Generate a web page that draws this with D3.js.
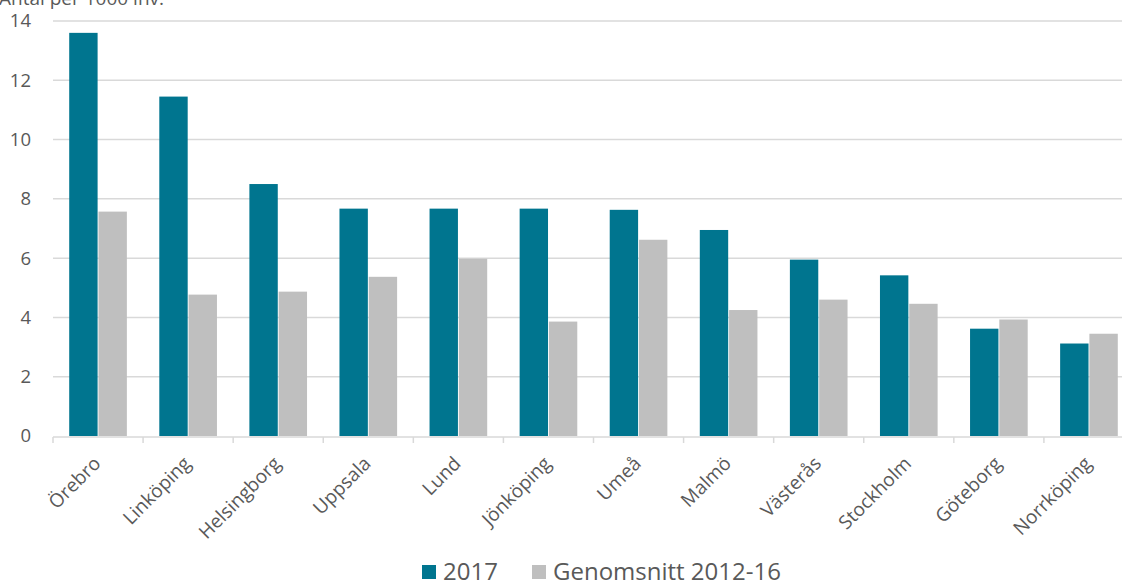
<!DOCTYPE html>
<html>
<head>
<meta charset="utf-8">
<script src="https://cdn.jsdelivr.net/npm/d3@7"></script>
<style>
  body { margin: 0; background: #fff; }
  text { font-family: "Open Sans", sans-serif; fill: #595959; }
</style>
</head>
<body>
<div id="chart"></div>
<script>
//define SVG size
var svgWidth = 1122;
var svgHeight = 583;

//chart data
var cities = ["Örebro", "Linköping", "Helsingborg", "Uppsala", "Lund", "Jönköping",
  "Umeå", "Malmö", "Västerås", "Stockholm", "Göteborg", "Norrköping"];
var values2017 = [13.6, 11.45, 8.5, 7.67, 7.67, 7.67, 7.63, 6.95, 5.95, 5.42, 3.62, 3.12];
var valuesAvg = [7.57, 4.77, 4.87, 5.37, 5.98, 3.86, 6.62, 4.25, 4.6, 4.46, 3.93, 3.45];
var seriesNames = ["2017", "Genomsnitt 2012-16"];
var seriesColors = ["#00758f", "#bfbfbf"];
var yTicks = [0, 2, 4, 6, 8, 10, 12, 14];

var data = cities.map(function(c, i) {
  return { city: c, vals: [values2017[i], valuesAvg[i]] };
});

//plot area
var plotLeft = 53, plotRight = 1134, plotTop = 21, plotBottom = 436;

var svg = d3.select("#chart")
  .append("svg")
  .attr("width", svgWidth)
  .attr("height", svgHeight);

//scales
var x0 = d3.scaleBand()
  .domain(cities)
  .range([plotLeft, plotRight])
  .paddingInner(0.36)
  .paddingOuter(0.18);

var x1 = d3.scaleBand()
  .domain([0, 1])
  .range([0, x0.bandwidth()])
  .paddingInner(0.03);

var y = d3.scaleLinear()
  .domain([0, 14])
  .range([plotBottom, plotTop]);

//gridlines
svg.append("g")
  .selectAll("line")
  .data(yTicks.filter(d => d > 0))
  .enter()
  .append("line")
  .attr("x1", plotLeft)
  .attr("x2", svgWidth)
  .attr("y1", d => y(d))
  .attr("y2", d => y(d))
  .attr("stroke", "#d9d9d9")
  .attr("stroke-width", 1.5);

//y tick labels
svg.append("g")
  .selectAll("text")
  .data(yTicks)
  .enter()
  .append("text")
  .attr("x", 31)
  .attr("y", d => y(d))
  .attr("dy", "0.35em")
  .attr("text-anchor", "end")
  .attr("font-size", 18.5)
  .text(d => d);

//axis title (cut at top)
svg.append("text")
  .attr("x", -1)
  .attr("y", 5)
  .attr("font-size", 19)
  .text("Antal per 1000 inv.");

//bars
var groups = svg.append("g")
  .selectAll("g")
  .data(data)
  .enter()
  .append("g")
  .attr("transform", d => `translate(${x0(d.city)},0)`);

groups.selectAll("rect")
  .data(d => d.vals)
  .enter()
  .append("rect")
  .attr("x", (d, i) => x1(i))
  .attr("y", d => y(d))
  .attr("width", x1.bandwidth())
  .attr("height", d => plotBottom - y(d))
  .attr("fill", (d, i) => seriesColors[i]);

//x axis line
svg.append("line")
  .attr("x1", plotLeft)
  .attr("x2", svgWidth)
  .attr("y1", plotBottom + 1)
  .attr("y2", plotBottom + 1)
  .attr("stroke", "#d9d9d9")
  .attr("stroke-width", 1.5);

//category separator ticks
var step = x0.step();
svg.append("g")
  .selectAll("line")
  .data(d3.range(cities.length + 1))
  .enter()
  .append("line")
  .attr("x1", i => plotLeft + i * step)
  .attr("x2", i => plotLeft + i * step)
  .attr("y1", plotBottom + 1)
  .attr("y2", plotBottom + 7)
  .attr("stroke", "#d9d9d9")
  .attr("stroke-width", 1.5);

//x labels rotated
svg.append("g")
  .selectAll("text")
  .data(cities)
  .enter()
  .append("text")
  .attr("transform", d => `translate(${x0(d) + x0.bandwidth() / 2 - 1},${plotBottom + 24}) rotate(-45)`)
  .attr("text-anchor", "end")
  .attr("dy", "0.35em")
  .attr("font-size", 19)
  .text(d => d);

//legend
var legend = svg.append("g");
var legendX = [422, 532];
seriesNames.forEach(function(name, i) {
  legend.append("rect")
    .attr("x", legendX[i])
    .attr("y", 565)
    .attr("width", 14)
    .attr("height", 14)
    .attr("fill", seriesColors[i]);
  legend.append("text")
    .attr("x", legendX[i] + 21)
    .attr("y", 572)
    .attr("dy", "0.35em")
    .attr("font-size", 24)
    .text(name);
});
</script>
</body>
</html>
